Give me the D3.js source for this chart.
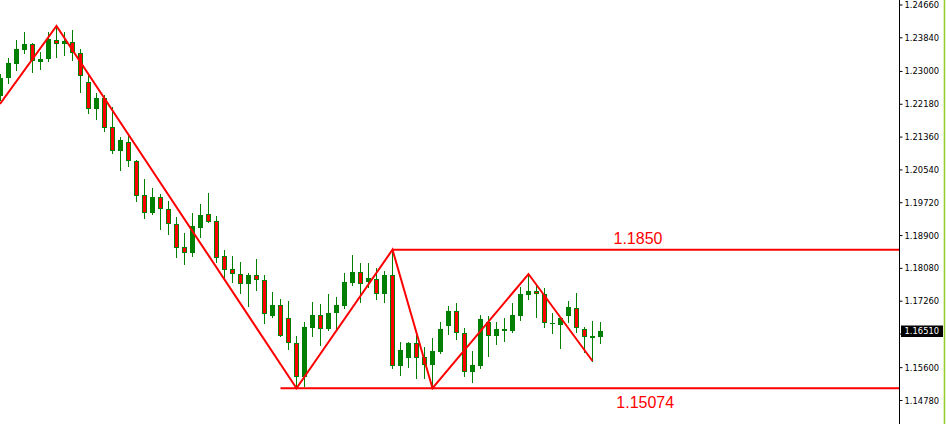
<!DOCTYPE html>
<html>
<head>
<meta charset="utf-8">
<script src="https://cdn.jsdelivr.net/npm/d3@7/dist/d3.min.js"></script>
<style>
  html, body { margin: 0; padding: 0; background: #ffffff; }
  svg { display: block; }
</style>
</head>
<body>
<svg id="chart" width="946" height="424"></svg>
<script>
// ---- data ----
const opens  = [1.22374,1.22824,1.23173,1.23523,1.23673,1.23223,1.23298,1.23773,1.23673,1.23723,
                1.23448,1.22724,1.22049,1.22324,1.21599,1.21000,1.21225,1.20750,1.19901,1.19451,
                1.19851,1.19551,1.19176,1.18602,1.18452,1.19076,1.19426,1.19251,1.18377,1.18052,
                1.17927,1.17677,1.17902,1.17777,1.16878,1.17153,1.16828,1.16204,1.15354,1.16578,
                1.16903,1.16553,1.16953,1.17128,1.17702,1.17977,1.17727,1.17802,1.17428,1.17902,
                1.15629,1.15829,1.16204,1.15854,1.15654,1.15979,1.16628,1.17003,1.16453,1.15479,
                1.15629,1.16728,1.16378,1.16503,1.16503,1.16878,1.17403,1.17503,1.17428,1.16678,
                1.16653,1.16878,1.17078,1.16553,1.16328,1.16353];
const highs  = [1.22923,1.23323,1.23773,1.23973,1.23698,1.23473,1.23973,1.24122,1.23973,1.24023,
                1.23548,1.22898,1.22449,1.22399,1.22099,1.21350,1.21400,1.20775,1.20300,1.20076,
                1.19926,1.19751,1.19351,1.18951,1.19451,1.19676,1.19951,1.19376,1.18527,1.18377,
                1.18227,1.17952,1.18302,1.17902,1.17478,1.17303,1.17253,1.16378,1.16728,1.17228,
                1.17178,1.17428,1.17353,1.17952,1.18402,1.18202,1.18202,1.18077,1.18002,1.18527,
                1.16229,1.16229,1.16453,1.16104,1.16328,1.16728,1.17128,1.17203,1.16578,1.16004,
                1.16903,1.16878,1.16728,1.16828,1.17203,1.17603,1.17927,1.17652,1.17578,1.16953,
                1.16853,1.17253,1.17453,1.16603,1.16753,1.16728];
const lows   = [1.22274,1.22699,1.23023,1.23448,1.22973,1.23048,1.23248,1.23348,1.23398,1.23273,
                1.22474,1.21949,1.21799,1.21500,1.20950,1.20525,1.20625,1.19751,1.19326,1.19426,
                1.19051,1.18926,1.18352,1.18177,1.18377,1.18852,1.19226,1.18227,1.17777,1.17727,
                1.17453,1.17128,1.17528,1.16703,1.16853,1.16378,1.16054,1.15104,1.15129,1.16378,
                1.16154,1.16528,1.16528,1.17078,1.17652,1.17228,1.17603,1.17303,1.17228,1.15579,
                1.15404,1.15604,1.15329,1.15329,1.15104,1.15954,1.16428,1.16303,1.15379,1.15229,
                1.15579,1.15879,1.16179,1.16254,1.16478,1.16778,1.17303,1.16853,1.16603,1.16453,
                1.16079,1.16728,1.16478,1.15979,1.15754,1.16204];
const closes = [1.22824,1.23198,1.23548,1.23673,1.23248,1.23298,1.23798,1.23673,1.23748,1.23448,
                1.22873,1.22049,1.22324,1.21574,1.21000,1.21275,1.20750,1.19876,1.19451,1.19851,
                1.19551,1.19176,1.18577,1.18452,1.19126,1.19401,1.19226,1.18327,1.18027,1.17927,
                1.17677,1.17902,1.17777,1.16928,1.17153,1.16378,1.16204,1.15354,1.16603,1.16903,
                1.16553,1.16953,1.17153,1.17727,1.17977,1.17677,1.17827,1.17428,1.17902,1.15629,
                1.16029,1.16204,1.15829,1.15654,1.16004,1.16553,1.17003,1.16453,1.15479,1.15654,
                1.16803,1.16378,1.16553,1.16553,1.16903,1.17428,1.17503,1.17428,1.16703,1.16703,
                1.16828,1.17103,1.16578,1.16353,1.16378,1.16510];

const zigzagIndex = [0, 7, 37, 49, 54, 66, 74];
const zigzagPrice = [1.22174, 1.24122, 1.15074, 1.18535, 1.15074, 1.17927, 1.15754];

const levelPrices = [1.18535, 1.15074];
const levelStart  = [49, 35];
const levelLabels = ["1.1850", "1.15074"];

const tickValues = [1.24660,1.23840,1.23000,1.22180,1.21360,1.20540,1.19720,1.18900,1.18080,1.17260,1.16440,1.15600,1.14780];
const tickLabels = ["1.24660","1.23840","1.23000","1.22180","1.21360","1.20540","1.19720","1.18900","1.18080","1.17260","1.16440","1.15600","1.14780"];
const currentPrice = 1.16510;
const currentLabel = "1.16510";

// ---- layout ----
const W = 946, H = 424;
const axisX = 899.5;
const svg = d3.select("#chart");

const candles = opens.map((o, i) => ({ i, o, h: highs[i], l: lows[i], c: closes[i] }));

const x = d3.scaleLinear().domain([0, 75]).range([0.5, 600.5]);
const y = d3.scaleLinear().domain([1.14180, 1.24772]).range([H, 0]);
const ry = v => Math.round(y(v));

const GREEN = "#008000", RED = "#ff0000";

// wicks
svg.append("g").selectAll("line").data(candles).join("line")
  .attr("x1", d => x(d.i)).attr("x2", d => x(d.i))
  .attr("y1", d => ry(d.h)).attr("y2", d => ry(d.l) + 1)
  .attr("stroke", GREEN).attr("stroke-width", 1);

// bodies
const bodies = svg.append("g");
candles.forEach(d => {
  const top = ry(Math.max(d.o, d.c));
  const bot = Math.max(ry(Math.min(d.o, d.c)), top + 1);
  const cx = x(d.i);
  if (d.c >= d.o) {
    bodies.append("rect")
      .attr("x", cx - 2.5).attr("width", 5)
      .attr("y", top).attr("height", Math.max(bot - top, 1))
      .attr("fill", GREEN);
  } else {
    bodies.append("rect")
      .attr("x", cx - 2).attr("width", 4)
      .attr("y", top + 0.5).attr("height", Math.max(bot - top - 1, 0.5))
      .attr("fill", RED).attr("stroke", GREEN).attr("stroke-width", 1);
  }
});

// level lines
levelPrices.forEach((p, k) => {
  svg.append("line")
    .attr("x1", x(levelStart[k])).attr("x2", axisX - 0.5)
    .attr("y1", y(p)).attr("y2", y(p))
    .attr("stroke", RED).attr("stroke-width", 2);
});
svg.append("text").text(levelLabels[0])
  .attr("x", 613.5).attr("y", y(levelPrices[0]) - 5.5)
  .attr("font-family", "Liberation Sans, Arial, sans-serif").attr("font-size", 16)
  .attr("fill", RED);
svg.append("text").text(levelLabels[1])
  .attr("x", 616.3).attr("y", y(levelPrices[1]) + 19.3)
  .attr("font-family", "Liberation Sans, Arial, sans-serif").attr("font-size", 16)
  .attr("fill", RED);

// zigzag
const zz = zigzagIndex.map((v, k) => [v, zigzagPrice[k]]);
svg.append("path")
  .attr("d", d3.line().x(d => d[0] === 0 ? 0 : x(d[0])).y(d => y(d[1]))(zz))
  .attr("fill", "none").attr("stroke", RED).attr("stroke-width", 2)
  .attr("stroke-linejoin", "miter");

// axis
svg.append("rect").attr("x", axisX).attr("y", 0).attr("width", W - axisX).attr("height", H).attr("fill", "#ffffff");
const cy = y(currentPrice);
const axis = d3.axisRight(y).tickValues(tickValues).tickSize(3).tickPadding(2)
  .tickFormat((d, k) => (Math.abs(y(d) - cy) < 8 ? "" : tickLabels[k]));
const ag = svg.append("g").attr("transform", `translate(${axisX},0)`).call(axis);
ag.select(".domain").attr("d", `M0,0V${H}`).attr("stroke", "#000");
ag.selectAll(".tick line").attr("stroke", "#000");
ag.selectAll(".tick text")
  .attr("font-family", "DejaVu Sans, Verdana, sans-serif").attr("font-size", 8.4)
  .attr("fill", "#000").attr("x", 5).attr("dy", "0.36em");

// current price box
svg.append("rect").attr("x", 901).attr("y", Math.round(cy) - 5.5).attr("width", 42).attr("height", 11.5)
  .attr("fill", "#000");
svg.append("text").text(currentLabel)
  .attr("x", axisX + 5).attr("y", cy).attr("dy", "0.36em")
  .attr("font-family", "DejaVu Sans, Verdana, sans-serif").attr("font-size", 8.4)
  .attr("fill", "#fff");

// right edge green line
svg.append("line").attr("x1", 944.5).attr("x2", 944.5).attr("y1", 0).attr("y2", H)
  .attr("stroke", "#9acd32").attr("stroke-width", 1.6);
</script>
</body>
</html>
